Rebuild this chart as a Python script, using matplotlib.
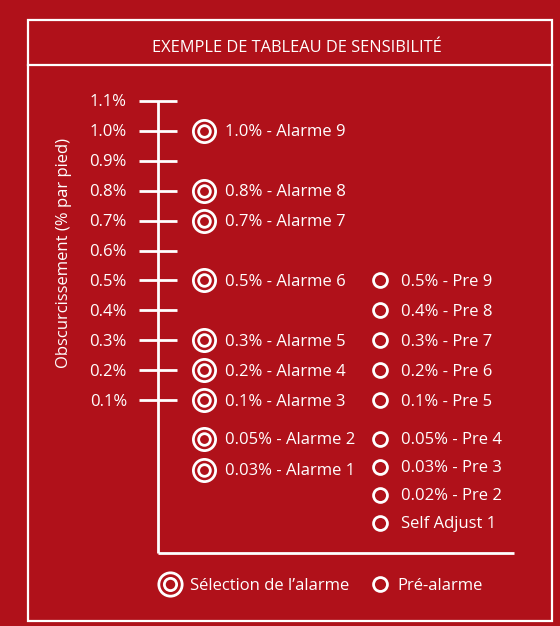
import matplotlib
matplotlib.use("Agg")
import matplotlib.pyplot as plt
from matplotlib.patches import Rectangle

plt.rcParams['font.family'] = ['Open Sans', 'DejaVu Sans']

RED = '#B0111A'
WHITE = 'white'
FS = 12

# scale of the chart (% obscuration per foot)
scale_ticks = [1.1, 1.0, 0.9, 0.8, 0.7, 0.6, 0.5, 0.4, 0.3, 0.2, 0.1]
tick_labels = ['1.1%', '1.0%', '0.9%', '0.8%', '0.7%', '0.6%', '0.5%', '0.4%', '0.3%', '0.2%', '0.1%']

# alarm settings on the scale
alarm_vals = [1.0, 0.8, 0.7, 0.5, 0.3, 0.2, 0.1]
alarm_labels = ['1.0% - Alarme 9', '0.8% - Alarme 8', '0.7% - Alarme 7', '0.5% - Alarme 6',
                '0.3% - Alarme 5', '0.2% - Alarme 4', '0.1% - Alarme 3']
# alarm settings listed below the scale
alarm_low_labels = ['0.05% - Alarme 2', '0.03% - Alarme 1']

# pre-alarm settings on the scale
pre_vals = [0.5, 0.4, 0.3, 0.2, 0.1]
pre_labels = ['0.5% - Pre 9', '0.4% - Pre 8', '0.3% - Pre 7', '0.2% - Pre 6', '0.1% - Pre 5']
# pre-alarm settings listed below the scale
pre_low_labels = ['0.05% - Pre 4', '0.03% - Pre 3', '0.02% - Pre 2', 'Self Adjust 1']

fig = plt.figure(figsize=(5.6, 6.26), dpi=100)
fig.patch.set_facecolor(RED)
ax = fig.add_axes([0, 0, 1, 1])
ax.set_facecolor(RED)
ax.axis('off')
# x in pixels, y in % (1.1% at px 101, 0.1% at px 400)
px_per_pct = 299.0
ax.set_xlim(0, 560)
ax.set_ylim(1.1 - (626 - 101) / px_per_pct, 1.1 + 101 / px_per_pct)


def py(p):
    # pixel row -> data y, for frame pieces only
    return 1.1 - (p - 101) / px_per_pct


dy = 1.5 / px_per_pct  # nudge text down a bit to sit on the ticks

# frame and title box
ax.add_patch(Rectangle((28, py(621)), 524, py(20) - py(621), fill=False,
                       edgecolor=WHITE, lw=1.6))
ax.plot([28, 552], [py(65), py(65)], color=WHITE, lw=1.6)
ax.text(297, py(47.5), 'EXEMPLE DE TABLEAU DE SENSIBILITÉ', color=WHITE,
        fontsize=11.8, ha='center', va='center')

# axis
ax.plot([158, 158], [1.1, py(553)], color=WHITE, lw=2.0, solid_capstyle='butt')
ax.plot([158, 514], [py(553), py(553)], color=WHITE, lw=2.0, solid_capstyle='butt')
ax.hlines(scale_ticks, 139, 177, color=WHITE, lw=2.0)
for v, lab in zip(scale_ticks, tick_labels):
    ax.text(127, v - dy, lab, color=WHITE, fontsize=FS, ha='right', va='center')
ax.text(64, py(253), 'Obscurcissement (% par pied)', color=WHITE, fontsize=FS,
        rotation=90, ha='center', va='center')

# lower list rows (below the scale)
row0 = py(439)
row_step = 28.0 / px_per_pct


def double_ring(x, y, s=1.0):
    ax.plot(x, y, 'o', ms=16.0 * s, mfc='none', mec=WHITE, mew=2.0)
    ax.plot(x, y, 'o', ms=8.4 * s, mfc='none', mec=WHITE, mew=2.0)


def single_ring(x, y):
    ax.plot(x, y, 'o', ms=10.0, mfc='none', mec=WHITE, mew=2.0)


alarm_y = alarm_vals + [row0 - i * 1.1 * row_step for i in range(len(alarm_low_labels))]
for y, lab in zip(alarm_y, alarm_labels + alarm_low_labels):
    double_ring(204, y)
    ax.text(225, y - dy, lab, color=WHITE, fontsize=FS, ha='left', va='center')

pre_y = pre_vals + [row0 - i * row_step for i in range(len(pre_low_labels))]
for y, lab in zip(pre_y, pre_labels + pre_low_labels):
    single_ring(380, y)
    ax.text(401, y - dy, lab, color=WHITE, fontsize=FS, ha='left', va='center')

# legend
double_ring(170, py(584), 1.05)
ax.text(190, py(584) - dy, 'Sélection de l’alarme', color=WHITE, fontsize=FS, ha='left', va='center')
single_ring(380, py(584))
ax.text(397, py(584) - dy, 'Pré-alarme', color=WHITE, fontsize=FS, ha='left', va='center')

fig.savefig('out.png', dpi=100, facecolor=RED)
